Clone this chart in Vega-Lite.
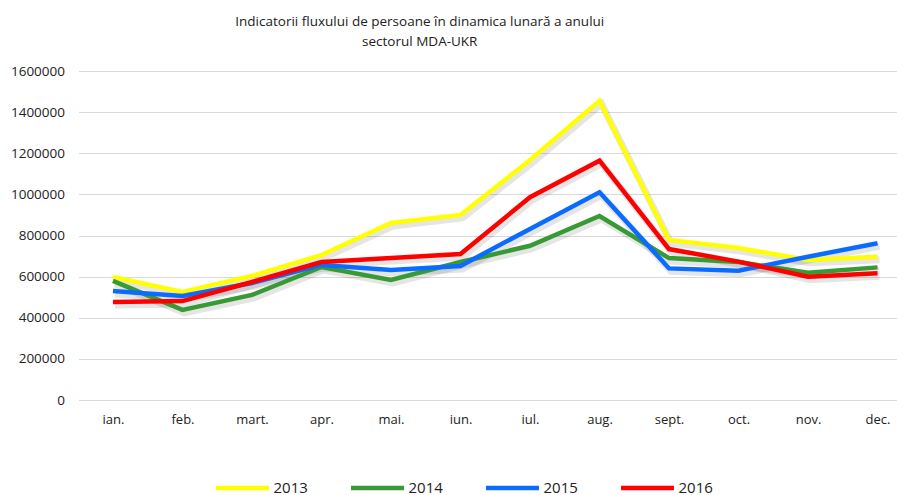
{
  "$schema": "https://vega.github.io/schema/vega-lite/v6.json",
  "width": 818.5,
  "height": 329,
  "autosize": {"type": "none"},
  "padding": {"left": 78.5, "top": 71, "right": 0, "bottom": 95},
  "background": "white",
  "title": {
    "text": ["Indicatorii fluxului de persoane în dinamica lunară a anului", "sectorul MDA-UKR"],
    "font": "Open Sans",
    "fontSize": 13.5,
    "fontWeight": "normal",
    "color": "#222222",
    "lineHeight": 20,
    "anchor": "middle",
    "dx": -68,
    "offset": 16
  },
  "config": {
    "view": {"stroke": null},
    "font": "Open Sans"
  },
  "data": {
    "values": [
      {"luna": "ian.", "an": "2013", "v": 598000},
      {"luna": "feb.", "an": "2013", "v": 525000},
      {"luna": "mart.", "an": "2013", "v": 603000},
      {"luna": "apr.", "an": "2013", "v": 705000},
      {"luna": "mai.", "an": "2013", "v": 861000},
      {"luna": "iun.", "an": "2013", "v": 900000},
      {"luna": "iul.", "an": "2013", "v": 1167000},
      {"luna": "aug.", "an": "2013", "v": 1455000},
      {"luna": "sept.", "an": "2013", "v": 778000},
      {"luna": "oct.", "an": "2013", "v": 739000},
      {"luna": "nov.", "an": "2013", "v": 681000},
      {"luna": "dec.", "an": "2013", "v": 697000},
      {"luna": "ian.", "an": "2014", "v": 579000},
      {"luna": "feb.", "an": "2014", "v": 438000},
      {"luna": "mart.", "an": "2014", "v": 511000},
      {"luna": "apr.", "an": "2014", "v": 647000},
      {"luna": "mai.", "an": "2014", "v": 584000},
      {"luna": "iun.", "an": "2014", "v": 671000},
      {"luna": "iul.", "an": "2014", "v": 750000},
      {"luna": "aug.", "an": "2014", "v": 895000},
      {"luna": "sept.", "an": "2014", "v": 690000},
      {"luna": "oct.", "an": "2014", "v": 671000},
      {"luna": "nov.", "an": "2014", "v": 619000},
      {"luna": "dec.", "an": "2014", "v": 645000},
      {"luna": "ian.", "an": "2015", "v": 530000},
      {"luna": "feb.", "an": "2015", "v": 506000},
      {"luna": "mart.", "an": "2015", "v": 569000},
      {"luna": "apr.", "an": "2015", "v": 657000},
      {"luna": "mai.", "an": "2015", "v": 632000},
      {"luna": "iun.", "an": "2015", "v": 652000},
      {"luna": "iul.", "an": "2015", "v": 832000},
      {"luna": "aug.", "an": "2015", "v": 1010000},
      {"luna": "sept.", "an": "2015", "v": 640000},
      {"luna": "oct.", "an": "2015", "v": 629000},
      {"luna": "nov.", "an": "2015", "v": 697000},
      {"luna": "dec.", "an": "2015", "v": 762000},
      {"luna": "ian.", "an": "2016", "v": 477000},
      {"luna": "feb.", "an": "2016", "v": 481000},
      {"luna": "mart.", "an": "2016", "v": 574000},
      {"luna": "apr.", "an": "2016", "v": 671000},
      {"luna": "mai.", "an": "2016", "v": 690000},
      {"luna": "iun.", "an": "2016", "v": 710000},
      {"luna": "iul.", "an": "2016", "v": 986000},
      {"luna": "aug.", "an": "2016", "v": 1164000},
      {"luna": "sept.", "an": "2016", "v": 734000},
      {"luna": "oct.", "an": "2016", "v": 673000},
      {"luna": "nov.", "an": "2016", "v": 600000},
      {"luna": "dec.", "an": "2016", "v": 616000}
    ]
  },
  "encoding": {
    "x": {
      "field": "luna",
      "type": "ordinal",
      "sort": null,
      "scale": {"type": "point", "padding": 0.388, "align": 0.639},
      "axis": {
        "title": null,
        "labelAngle": 0,
        "ticks": false,
        "domainColor": "#d9d9d9",
        "domainWidth": 1,
        "labelFont": "Open Sans",
        "labelFontSize": 13,
        "labelColor": "#222222",
        "labelPadding": 13
      }
    },
    "y": {
      "field": "v",
      "type": "quantitative",
      "scale": {"domain": [0, 1600000], "nice": false},
      "axis": {
        "title": null,
        "values": [0, 200000, 400000, 600000, 800000, 1000000, 1200000, 1400000, 1600000],
        "format": "d",
        "ticks": false,
        "domain": false,
        "gridColor": "#d9d9d9",
        "gridWidth": 1,
        "labelFont": "Open Sans",
        "labelFontSize": 13.5,
        "labelColor": "#222222",
        "labelPadding": 14
      }
    }
  },
  "layer": [
    {
      "mark": {"type": "line", "strokeWidth": 7, "color": "#000000", "opacity": 0.1, "yOffset": 3, "xOffset": 2},
      "encoding": {"detail": {"field": "an"}}
    },
    {
      "mark": {"type": "line", "strokeWidth": 4.5, "strokeJoin": "miter"},
      "encoding": {
        "color": {
          "field": "an",
          "type": "nominal",
          "scale": {"domain": ["2013", "2014", "2015", "2016"], "range": ["#ffff00", "#379a34", "#0a6cff", "#ff0000"]},
          "legend": {
            "title": null,
            "orient": "none",
            "direction": "horizontal",
            "legendX": 135,
            "legendY": 388,
            "symbolType": "stroke",
            "symbolSize": 2800,
            "symbolStrokeWidth": 4.5,
            "labelFont": "Open Sans",
            "labelFontSize": 15,
            "labelColor": "#222222",
            "labelOffset": 2,
            "columnPadding": 33
          }
        }
      }
    }
  ]
}
